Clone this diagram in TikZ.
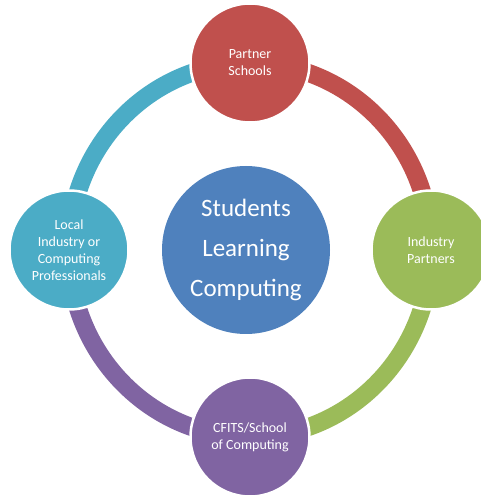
\documentclass[tikz,border=0pt]{standalone}
\usepackage{fontspec}
\setmainfont{Carlito}
\usetikzlibrary{backgrounds}
\definecolor{cred}{HTML}{C0504D}
\definecolor{cblue}{HTML}{4F81BD}
\definecolor{cgreen}{HTML}{9BBB59}
\definecolor{cpurple}{HTML}{8064A2}
\definecolor{cteal}{HTML}{4BACC6}
\begin{document}
\begin{tikzpicture}[x=1pt,y=1pt,
  outer/.style={circle, draw=white, line width=2.5pt, minimum size=119pt, inner sep=0pt,
    text=white, align=center, font=\fontsize{14}{17}\selectfont},
  hub/.style={circle, fill=cblue, minimum size=168pt, inner sep=0pt,
    text=white, align=center, font=\fontsize{25}{40}\selectfont},
  ringarc/.style={line width=18pt}]
\useasboundingbox (0,0) rectangle (481,498);
\node[hub] (slc) at (246,248) {Students\\Learning\\Computing};
\node[outer, fill=cred] (ps) at (250,435) {Partner\\Schools};
\node[outer, fill=cgreen] (ip) at (431,248) {Industry\\Partners};
\node[outer, fill=cpurple] (cf) at (250,61) {CFITS/School\\of Computing};
\node[outer, fill=cteal] (lo) at (69,248) {Local\\Industry or\\Computing\\Professionals};
\begin{scope}[on background layer]
\draw[cred, ringarc] (ps.center) arc[start angle=90, end angle=0, x radius=181pt, y radius=187pt];
\draw[cgreen, ringarc] (ip.center) arc[start angle=0, end angle=-90, x radius=181pt, y radius=187pt];
\draw[cpurple, ringarc] (cf.center) arc[start angle=-90, end angle=-180, x radius=181pt, y radius=187pt];
\draw[cteal, ringarc] (lo.center) arc[start angle=180, end angle=90, x radius=181pt, y radius=187pt];
\end{scope}
\end{tikzpicture}
\end{document}
